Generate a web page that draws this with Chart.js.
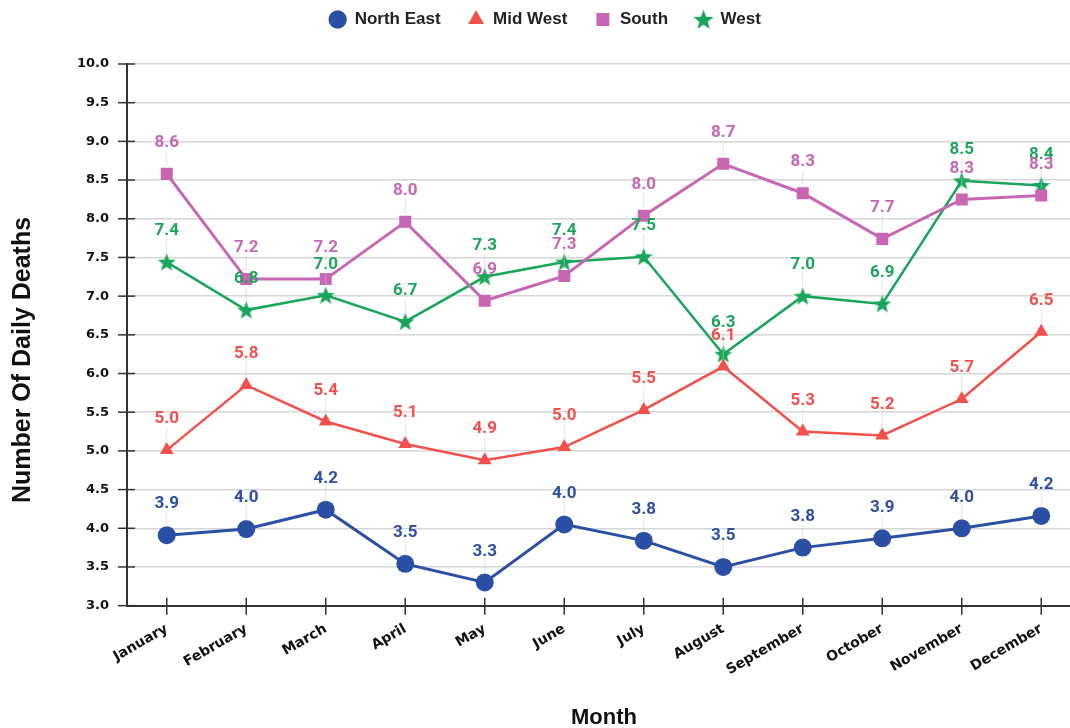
<!DOCTYPE html>
<html>
<head>
<meta charset="utf-8">
<script src="https://cdn.jsdelivr.net/npm/chart.js@4.4.1/dist/chart.umd.min.js"></script>
<style>
  html, body { margin: 0; padding: 0; background: #fff; overflow: hidden; }
  #wrap { position: relative; width: 1090px; height: 728px; }
</style>
</head>
<body>
<div id="wrap"><canvas id="grafico"></canvas></div>
<script>
// Datos del gráfico
const meses = ['January', 'February', 'March', 'April', 'May', 'June', 'July', 'August', 'September', 'October', 'November', 'December'];
const northEast = [3.91, 3.99, 4.24, 3.54, 3.30, 4.05, 3.84, 3.50, 3.75, 3.87, 4.00, 4.16];
const midWest = [5.01, 5.85, 5.38, 5.09, 4.88, 5.05, 5.53, 6.09, 5.25, 5.20, 5.67, 6.54];
const south = [8.58, 7.22, 7.22, 7.96, 6.94, 7.26, 8.04, 8.71, 8.33, 7.74, 8.25, 8.30];
const west = [7.44, 6.82, 7.01, 6.67, 7.25, 7.44, 7.51, 6.25, 7.00, 6.90, 8.49, 8.43];
const ticksY = [3.0, 3.5, 4.0, 4.5, 5.0, 5.5, 6.0, 6.5, 7.0, 7.5, 8.0, 8.5, 9.0, 9.5, 10.0];

const colores = {
    northEast: '#2c4fa6',
    midWest: '#f2514b',
    south: '#c767b3',
    west: '#19a65a'
};

// Estrella rellena de 5 puntas para la serie West
function crearEstrella(radio, color) {
    const c = document.createElement('canvas');
    const s = Math.ceil(radio * 2 + 2);
    c.width = s;
    c.height = s;
    const g = c.getContext('2d');
    g.fillStyle = color;
    g.beginPath();
    for (let i = 0; i < 10; i++) {
        const r = i % 2 === 0 ? radio : radio * 0.42;
        const a = -Math.PI / 2 + i * Math.PI / 5;
        const px = s / 2 + r * Math.cos(a);
        const py = s / 2 + r * Math.sin(a) + 0.8;
        if (i === 0) g.moveTo(px, py); else g.lineTo(px, py);
    }
    g.closePath();
    g.fill();
    return c;
}
const estrella = crearEstrella(9.5, colores.west);
const estrellaLeyenda = crearEstrella(10.5, colores.west);

// Altura extra de la leyenda para bajar el área del gráfico
const ajusteLeyenda = {
    id: 'ajusteLeyenda',
    afterInit(chart) {
        const original = chart.legend.fit;
        chart.legend.fit = function () {
            original.call(this);
            this.height += 26;
        };
    }
};

// Marcas de los ejes que cruzan la línea del eje + título del eje Y
const marcasEjes = {
    id: 'marcasEjes',
    afterDraw(chart) {
        const ctx = chart.ctx;
        const xs = chart.scales.x;
        const ys = chart.scales.y;
        const area = chart.chartArea;
        ctx.save();
        ctx.strokeStyle = '#333';
        ctx.lineWidth = 1.5;
        xs.ticks.forEach((t, i) => {
            const px = xs.getPixelForTick(i);
            ctx.beginPath();
            ctx.moveTo(px, area.bottom - 8);
            ctx.lineTo(px, area.bottom + 9);
            ctx.stroke();
        });
        ys.ticks.forEach((t, i) => {
            const py = ys.getPixelForValue(t.value);
            ctx.beginPath();
            ctx.moveTo(area.left - 9, py);
            ctx.lineTo(area.left + 8, py);
            ctx.stroke();
        });
        ctx.translate(23, 360);
        ctx.rotate(-Math.PI / 2);
        ctx.fillStyle = '#111';
        ctx.font = 'bold 25px "Liberation Sans"';
        ctx.textAlign = 'center';
        ctx.textBaseline = 'middle';
        ctx.fillText('Number Of Daily Deaths', 0, 0);
        ctx.restore();
    }
};

// Etiquetas de valor con línea guía
const etiquetasValor = {
    id: 'etiquetasValor',
    afterDatasetsDraw(chart) {
        const ctx = chart.ctx;
        ctx.save();
        for (let i = chart.data.datasets.length - 1; i >= 0; i--) {
            const ds = chart.data.datasets[i];
            const meta = chart.getDatasetMeta(i);
            meta.data.forEach((pt, j) => {
                const yTexto = pt.y - 31;
                ctx.strokeStyle = 'rgba(205,205,205,0.55)';
                ctx.lineWidth = 1;
                ctx.beginPath();
                ctx.moveTo(pt.x, pt.y - 8);
                ctx.lineTo(pt.x, yTexto + 8);
                ctx.stroke();
                ctx.fillStyle = ds.borderColor;
                ctx.font = 'bold 17px Roboto';
                ctx.textAlign = 'center';
                ctx.textBaseline = 'middle';
                ctx.fillText(ds.data[j].toFixed(1), pt.x, yTexto);
            });
        }
        ctx.restore();
    }
};

const ctx = document.getElementById('grafico').getContext('2d');
const chart = new Chart(ctx, {
    type: 'line',
    data: {
        labels: meses,
        datasets: [
            { label: 'North East', data: northEast, borderColor: colores.northEast, backgroundColor: colores.northEast,
              pointStyle: 'circle', pointRadius: 9, borderWidth: 3, pointBorderWidth: 0 },
            { label: 'Mid West', data: midWest, borderColor: colores.midWest, backgroundColor: colores.midWest,
              pointStyle: 'triangle', pointRadius: 8, borderWidth: 2.5, pointBorderWidth: 0 },
            { label: 'South', data: south, borderColor: colores.south, backgroundColor: colores.south,
              pointStyle: 'rect', pointRadius: 8.5, borderWidth: 3, pointBorderWidth: 0 },
            { label: 'West', data: west, borderColor: colores.west, backgroundColor: colores.west,
              pointStyle: estrella, pointRadius: 9, borderWidth: 2.5, pointBorderWidth: 0 }
        ]
    },
    options: {
        responsive: true,
        maintainAspectRatio: false,
        animation: false,
        layout: { padding: { top: -16, left: 0, right: 0, bottom: -3 } },
        plugins: {
            tooltip: { enabled: false },
            legend: {
                position: 'top',
                labels: {
                    usePointStyle: true,
                    boxHeight: 13,
                    padding: 27,
                    color: '#222',
                    font: { family: 'Liberation Sans', size: 17, weight: 'bold' },
                    generateLabels(c) {
                        return c.data.datasets.map((ds, i) => ({
                            text: ds.label,
                            fillStyle: ds.backgroundColor,
                            strokeStyle: ds.backgroundColor,
                            lineWidth: 0,
                            pointStyle: i === 3 ? estrellaLeyenda : ds.pointStyle,
                            fontColor: '#222',
                            hidden: false,
                            datasetIndex: i
                        }));
                    }
                }
            }
        },
        scales: {
            x: {
                offset: true,
                grid: { drawOnChartArea: false, drawTicks: true, tickLength: 9, tickColor: 'transparent' },
                border: { color: '#333', width: 2 },
                ticks: {
                    color: '#111',
                    maxRotation: 30,
                    minRotation: 30,
                    padding: 6,
                    font: { family: 'DejaVu Sans', size: 14, weight: 'bold' }
                },
                title: {
                    display: true,
                    text: 'Month',
                    color: '#111',
                    padding: { top: 20, bottom: 0 },
                    font: { family: 'Liberation Sans', size: 22, weight: 'bold' }
                }
            },
            y: {
                min: 3,
                max: 10,
                afterBuildTicks(axis) {
                    axis.ticks = ticksY.map(v => ({ value: v }));
                },
                afterFit(axis) {
                    axis.width = 127;
                },
                grid: { color: '#d6d6d6', lineWidth: 1.5, tickLength: 9, tickColor: 'transparent' },
                border: { color: '#333', width: 2 },
                ticks: {
                    color: '#111',
                    padding: 9,
                    font: { family: 'DejaVu Sans', size: 13, weight: 'bold' },
                    callback: v => Number(v).toFixed(1)
                }
            }
        }
    },
    plugins: [ajusteLeyenda, etiquetasValor, marcasEjes]
});
</script>
</body>
</html>
